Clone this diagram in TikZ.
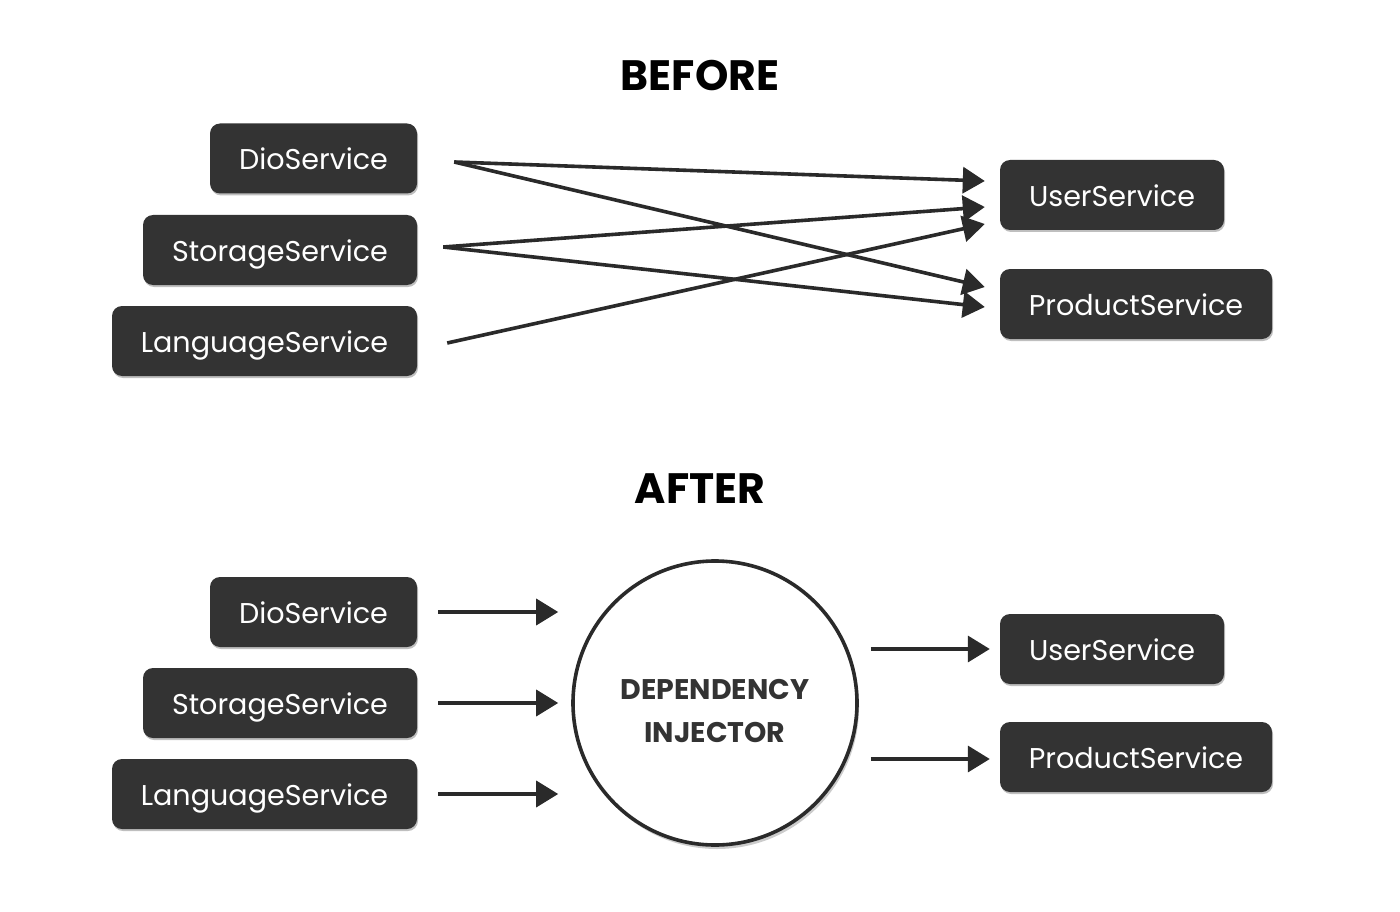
\documentclass[tikz,border=0pt]{standalone}
\usepackage{fontspec}
\setmainfont{Poppins}
\usetikzlibrary{arrows.meta,shadows,calc}
\definecolor{boxc}{HTML}{333333}
\definecolor{linec}{HTML}{2A2A2A}
\tikzset{
  svc/.style={fill=boxc, text=white, rounded corners=10pt, minimum height=70pt,
    inner sep=0pt, font=\fontsize{28.6}{32}\selectfont, text height=22.5pt, text depth=0pt,
    drop shadow={shadow xshift=1pt, shadow yshift=-2pt, opacity=0.25, fill=black}},
  conn/.style={draw=linec, line width=3.6pt,
    -{Triangle[length=22pt,width=26pt]}},
  title/.style={font=\fontsize{42.5}{46}\selectfont\bfseries, text=black},
}
\begin{document}
\begin{tikzpicture}[x=1pt,y=-1pt]
\useasboundingbox[fill=white] (0,0) rectangle (1400,912);
% BEFORE
\node[title] (tb) at (700,76) {BEFORE};
\node[svc, minimum width=207pt] (d1) at (313.5,158.5) {DioService};
\node[svc, minimum width=274pt] (s1) at (280,250) {StorageService};
\node[svc, minimum width=305pt] (l1) at (264.5,341) {LanguageService};
\node[svc, minimum width=224pt] (u1) at (1112,195) {UserService};
\node[svc, minimum width=272pt] (p1) at (1136,304) {ProductService};
\coordinate (d1o) at ($(d1.east)+(37,3.5)$);
\coordinate (s1o) at ($(s1.east)+(26,-3)$);
\coordinate (l1o) at ($(l1.east)+(30,2)$);
\coordinate (u1a) at ($(u1.west)+(-15,-14)$);
\coordinate (u1b) at ($(u1.west)+(-15,12)$);
\coordinate (u1c) at ($(u1.west)+(-15,29)$);
\coordinate (p1a) at ($(p1.west)+(-15,-17)$);
\coordinate (p1b) at ($(p1.west)+(-15,3)$);
\draw[conn] (d1o) -- (u1a);
\draw[conn] (d1o) -- (p1a);
\draw[conn] (s1o) -- (u1b);
\draw[conn] (s1o) -- (p1b);
\draw[conn] (l1o) -- (u1c);
% AFTER
\node[title] (ta) at (700,489) {AFTER};
\node[svc, minimum width=207pt] (d2) at (313.5,612) {DioService};
\node[svc, minimum width=274pt] (s2) at (280,703) {StorageService};
\node[svc, minimum width=305pt] (l2) at (264.5,794) {LanguageService};
\node[svc, minimum width=224pt] (u2) at (1112,649) {UserService};
\node[svc, minimum width=272pt] (p2) at (1136,757) {ProductService};
\node[circle, draw=linec, line width=3.6pt, fill=white, minimum size=284pt,
  align=center, text=boxc, font=\fontsize{28.4}{43}\selectfont\bfseries,
  drop shadow={shadow xshift=2pt, shadow yshift=-4pt, opacity=0.2, fill=black}]
  (di) at (715,703) {};
\node[text=boxc, font=\fontsize{28.4}{43}\selectfont\bfseries, align=center]
  (dit) at ($(di.center)+(0,8)$) {DEPENDENCY\\INJECTOR};
\draw[conn] ($(d2.east)+(21,0)$) -- ($(d2.east)+(141,0)$);
\draw[conn] ($(s2.east)+(21,0)$) -- ($(s2.east)+(141,0)$);
\draw[conn] ($(l2.east)+(21,0)$) -- ($(l2.east)+(141,0)$);
\draw[conn] ($(u2.west)+(-129,0)$) -- ($(u2.west)+(-10,0)$);
\draw[conn] ($(p2.west)+(-129,2)$) -- ($(p2.west)+(-10,2)$);
\end{tikzpicture}
\end{document}
